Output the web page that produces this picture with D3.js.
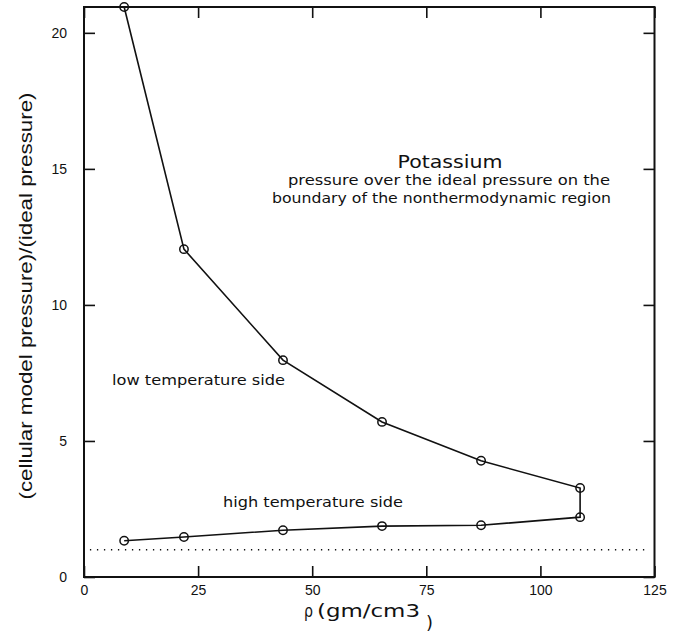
<!DOCTYPE html>
<html>
<head>
<meta charset="utf-8">
<script src="https://cdn.jsdelivr.net/npm/d3@7"></script>
<style>
  html, body { margin: 0; padding: 0; background: #fff; }
  svg { display: block; }
  .gothic { font-family: "DejaVu Sans", sans-serif; fill: #111; }
  .helv { font-family: "Liberation Sans", Arial, sans-serif; fill: #111; }
</style>
</head>
<body>
<script>
// Potassium: cellular-model pressure over ideal pressure along the boundary
// of the nonthermodynamic region, as a function of density.
const rho = [8.8, 21.9, 43.6, 65.3, 87.0, 108.7];          // gm/cm3
const lowTempSide = [20.95, 12.05, 7.97, 5.70, 4.27, 3.27];  // P_cell / P_ideal
const highTempSide = [1.33, 1.47, 1.72, 1.87, 1.90, 2.20];   // P_cell / P_ideal
const idealRatio = 1;
const xTicks = [0, 25, 50, 75, 100, 125];
const yTicks = [0, 5, 10, 15, 20];
const xDomain = [0, 125];
const yDomain = [0, 20.95];

const W = 692, H = 635;
const plotL = 84, plotR = 654.5, plotT = 7, plotB = 577;

const svg = d3.select("body").append("svg")
  .attr("width", W).attr("height", H);

const x = d3.scaleLinear().domain(xDomain).range([plotL, plotR]);
const y = d3.scaleLinear().domain(yDomain).range([plotB, plotT]);

const tickLen = 11;

// Inward ticks on all four sides
function styleAxis(g) {
  g.select(".domain").remove();
  g.selectAll(".tick line").attr("stroke", "#111").attr("stroke-width", 1.6);
}
function styleLabels(g) {
  g.selectAll(".tick text")
    .attr("font-family", "Liberation Sans, Arial, sans-serif")
    .attr("font-size", 14).attr("fill", "#111");
}

svg.append("g").attr("transform", `translate(0,${plotB})`)
  .call(d3.axisBottom(x).tickValues(xTicks).tickSizeInner(-tickLen).tickSizeOuter(0).tickPadding(8))
  .call(styleAxis).call(styleLabels);

svg.append("g").attr("transform", `translate(0,${plotT})`)
  .call(d3.axisTop(x).tickValues(xTicks).tickSizeInner(-tickLen).tickSizeOuter(0).tickFormat(""))
  .call(styleAxis);

svg.append("g").attr("transform", `translate(${plotL},0)`)
  .call(d3.axisLeft(y).tickValues(yTicks).tickSizeInner(-tickLen).tickSizeOuter(0).tickPadding(17))
  .call(styleAxis).call(styleLabels);

svg.append("g").attr("transform", `translate(${plotR},0)`)
  .call(d3.axisRight(y).tickValues(yTicks).tickSizeInner(-tickLen).tickSizeOuter(0).tickFormat(""))
  .call(styleAxis);

// Frame
svg.append("rect")
  .attr("x", plotL).attr("y", plotT)
  .attr("width", plotR - plotL).attr("height", plotB - plotT)
  .attr("fill", "none").attr("stroke", "#111").attr("stroke-width", 2);

// Ideal-gas reference (ratio = 1)
svg.append("line")
  .attr("x1", x(1.3)).attr("x2", x(124))
  .attr("y1", y(idealRatio)).attr("y2", y(idealRatio))
  .attr("stroke", "#111").attr("stroke-width", 1.6)
  .attr("stroke-dasharray", "1.3,5.7");

// Boundary curve: low-temperature branch, then back along the high-temperature branch
const lowPts = rho.map((r, i) => [r, lowTempSide[i]]);
const highPts = rho.map((r, i) => [r, highTempSide[i]]);
const boundary = lowPts.concat(highPts.slice().reverse());

const line = d3.line().x(d => x(d[0])).y(d => y(d[1]));
svg.append("path")
  .datum(boundary)
  .attr("d", line)
  .attr("fill", "none").attr("stroke", "#111").attr("stroke-width", 1.6);

svg.append("g").selectAll("circle")
  .data(lowPts.concat(highPts))
  .join("circle")
  .attr("cx", d => x(d[0])).attr("cy", d => y(d[1]))
  .attr("r", 4.2)
  .attr("fill", "none").attr("stroke", "#111").attr("stroke-width", 1.5);

// Annotations
function label(txt, cx, by, size, len, anchor) {
  return svg.append("text").attr("class", "gothic")
    .attr("x", cx).attr("y", by)
    .attr("text-anchor", anchor || "middle")
    .attr("font-size", size)
    .attr("textLength", len).attr("lengthAdjust", "spacingAndGlyphs")
    .text(txt);
}
label("Potassium", 450, 168, 18, 105);
label("pressure over the ideal pressure on the", 449, 185, 14.5, 322);
label("boundary of the nonthermodynamic region", 441.5, 203, 14.5, 339);
label("low temperature side", 198.5, 385, 14.5, 173);
label("high temperature side", 313, 507, 14.5, 180);

// X axis title, closing parenthesis set low
label("\u03c1", 304, 617, 18, 9, "start");
label("(gm/cm3", 317, 617, 18, 103, "start");
label(")", 426, 629, 18, 7, "start");

// Y axis title
svg.append("text").attr("class", "helv")
  .attr("transform", `translate(32,296) rotate(-90)`)
  .attr("text-anchor", "middle")
  .attr("font-size", 18)
  .attr("textLength", 407).attr("lengthAdjust", "spacingAndGlyphs")
  .text("(cellular model pressure)/(ideal pressure)");
</script>
</body>
</html>
